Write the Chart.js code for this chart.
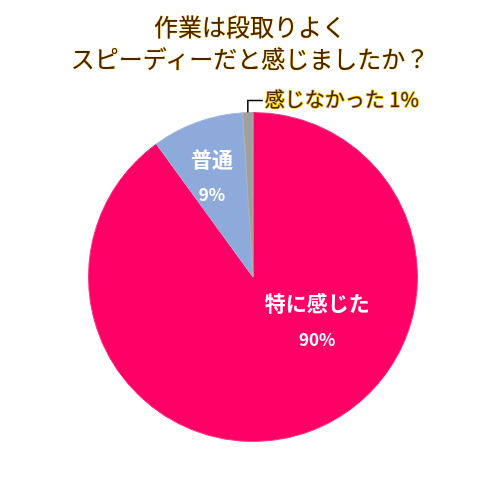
<!DOCTYPE html>
<html>
<head>
<meta charset="utf-8">
<script src="https://cdn.jsdelivr.net/npm/chart.js@4.4.0/dist/chart.umd.min.js"></script>
<style>
    body { margin:0; background:#fff; }
    .wrap { position:relative; width:500px; height:500px; }
    .title {
        position:absolute; left:0; top:10px; width:500px; text-align:center;
        font-family:"Noto Sans CJK JP", sans-serif; font-size:24px; line-height:32px;
        color:#4a2200;
        text-shadow: 0 0 1px #f2c400, 0 0 1px #f2c400;
    }
    canvas { position:absolute; left:0; top:0; }
</style>
</head>
<body>
<div class="wrap">
    <canvas id="pieChart" width="500" height="500"></canvas>
    <div class="title">作業は段取りよく<br>スピーディーだと感じましたか？</div>
</div>
<script>
const categories = ['特に感じた', '普通', '感じなかった'];
const values = [90, 9, 1];
const valueLabels = ['90%', '9%', '1%'];
const sliceColors = ['#ff0066', '#8eaadb', '#a0a0a0'];

// label placement as fractions of radius, relative to the pie center
const labelSpots = [
    { dx: 0.39, dy: 0.27 },
    { dx: -0.25, dy: -0.61 }
];

const sliceLabels = {
    id: 'sliceLabels',
    afterDatasetsDraw(chart) {
        const ctx = chart.ctx;
        const arcs = chart.getDatasetMeta(0).data;
        const cx = arcs[0].x, cy = arcs[0].y, r = arcs[0].outerRadius;
        ctx.save();
        ctx.textAlign = 'center';
        ctx.textBaseline = 'middle';
        ctx.fillStyle = '#fff';
        labelSpots.forEach((s, i) => {
            const x = cx + s.dx * r, y = cy + s.dy * r;
            ctx.font = 'bold 21px "Noto Sans CJK JP", sans-serif';
            ctx.fillText(categories[i], x, y - 18);
            ctx.font = 'bold 17px "Noto Sans CJK JP", sans-serif';
            ctx.fillText(valueLabels[i], x, y + 18);
        });

        // small slice: leader line to an outside label
        const a = arcs[2];
        const mid = (a.startAngle + a.endAngle) / 2;
        const px = cx + Math.cos(mid) * r, py = cy + Math.sin(mid) * r;
        ctx.strokeStyle = '#000';
        ctx.lineWidth = 1.5;
        ctx.beginPath();
        ctx.moveTo(px, py);
        ctx.lineTo(px, py - 12);
        ctx.lineTo(px + 15, py - 12);
        ctx.stroke();
        ctx.font = '20px "Noto Sans CJK JP", sans-serif';
        ctx.textAlign = 'left';
        const txt = categories[2] + ' ' + valueLabels[2];
        ctx.lineWidth = 1.5;
        ctx.strokeStyle = '#f2c400';
        ctx.lineJoin = 'round';
        ctx.strokeText(txt, px + 17, py - 13);
        ctx.fillStyle = '#4a2200';
        ctx.fillText(txt, px + 17, py - 13);
        ctx.restore();
    }
};

new Chart(document.getElementById('pieChart').getContext('2d'), {
    type: 'pie',
    data: {
        labels: categories,
        datasets: [{
            data: values,
            backgroundColor: sliceColors,
            borderColor: ['#ff3385', '#9fb6e0', '#b0b0b0'],
            borderWidth: 1
        }]
    },
    options: {
        responsive: false,
        devicePixelRatio: 1,
        animation: false,
        layout: { padding: { left: 88, right: 82, top: 112, bottom: 58 } },
        plugins: { legend: { display: false }, tooltip: { enabled: false }, title: { display: false } }
    },
    plugins: [sliceLabels]
});
</script>
</body>
</html>
